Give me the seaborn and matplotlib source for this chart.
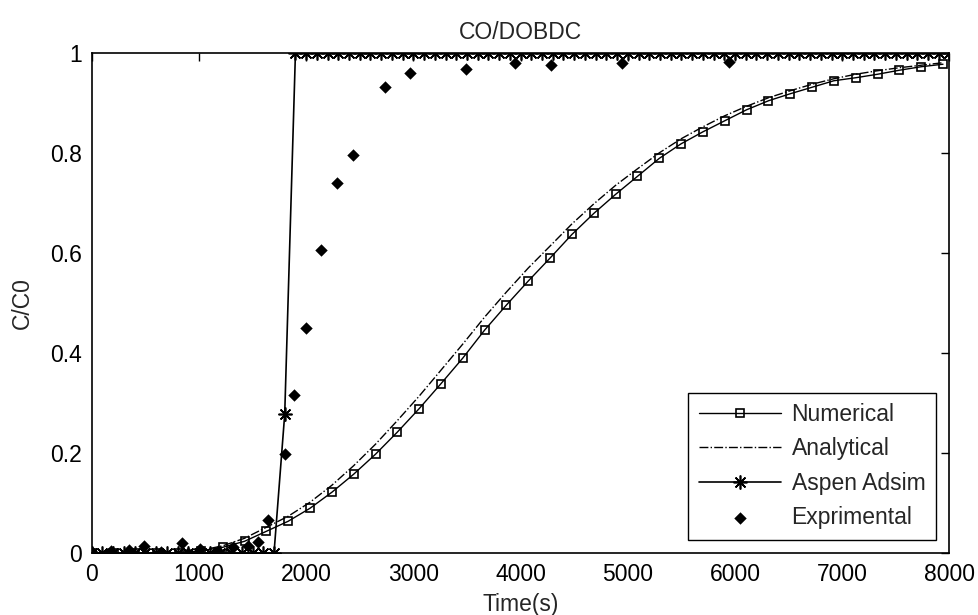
import numpy as np
import pandas as pd
import seaborn as sns
import matplotlib.pyplot as plt

# numerical model (every plotted point carries a marker)
num_t = [0, 204, 407, 611, 814, 1018, 1222, 1425, 1629, 1832, 2036, 2240, 2443, 2647,
         2850, 3054, 3258, 3461, 3665, 3868, 4072, 4276, 4479, 4683, 4886, 5090, 5294,
         5497, 5701, 5904, 6108, 6312, 6515, 6719, 6922, 7126, 7330, 7533, 7737, 7940]
num_y = [0, 0, 0, 0, 0.001, 0.005, 0.012, 0.024, 0.044, 0.064, 0.09, 0.122, 0.158, 0.198,
         0.242, 0.289, 0.339, 0.39, 0.446, 0.496, 0.544, 0.59, 0.637, 0.679, 0.717, 0.753,
         0.789, 0.818, 0.842, 0.864, 0.886, 0.904, 0.918, 0.931, 0.944, 0.95, 0.957, 0.965,
         0.972, 0.977]
# analytical solution, same time grid
ana_y = [0, 0, 0, 0, 0.001, 0.006, 0.015, 0.03, 0.052, 0.074, 0.102, 0.136, 0.175, 0.218,
         0.265, 0.314, 0.366, 0.418, 0.472, 0.522, 0.57, 0.614, 0.658, 0.698, 0.735, 0.768,
         0.8, 0.828, 0.852, 0.874, 0.893, 0.91, 0.924, 0.937, 0.948, 0.957, 0.964, 0.97,
         0.975, 0.98]
# aspen adsim, 100 s steps
asp_t = list(range(0, 8100, 100))
asp_y = [0.0] * 18 + [0.278] + [1.0] * 62
# experiment
exp_t = [0, 180, 350, 490, 650, 840, 900, 1010, 1180, 1320, 1460, 1550, 1640, 1800, 1890,
         2000, 2140, 2290, 2440, 2735, 2970, 3490, 3950, 4280, 4945, 5945]
exp_y = [0.002, 0.005, 0.006, 0.014, 0.003, 0.02, 0.0, 0.008, 0.005, 0.012, 0.014, 0.022,
         0.066, 0.198, 0.317, 0.45, 0.605, 0.739, 0.796, 0.932, 0.96, 0.967, 0.979, 0.975,
         0.979, 0.982]

sns.set_style("white")
plt.rcParams['font.family'] = ['Liberation Sans', 'DejaVu Sans']
fs = 16.5

fig = plt.figure(figsize=(9.79, 6.15), dpi=100)
ax = fig.add_axes([0.0937, 0.1003, 0.8761, 0.814])

sns.lineplot(x=num_t, y=num_y, ax=ax, color="k", lw=1.0, marker="s", markersize=6,
             markerfacecolor="none", markeredgecolor="k", markeredgewidth=1.2,
             label="Numerical")
sns.lineplot(x=num_t, y=ana_y, ax=ax, color="k", lw=1.0, linestyle="-.",
             label="Analytical")
sns.lineplot(x=asp_t, y=asp_y, ax=ax, color="k", lw=1.2, marker=(8, 2, 0), markersize=10,
             markeredgecolor="k", markeredgewidth=1.2, label="Aspen Adsim")
sns.scatterplot(x=exp_t, y=exp_y, ax=ax, color="k", marker="D", s=40, edgecolor="k",
                linewidth=0, label="Exprimental", zorder=5)

ax.set_xlim(0, 8000)
ax.set_ylim(0, 1)
ax.set_xticks(range(0, 9000, 1000))
ax.set_yticks([0, 0.2, 0.4, 0.6, 0.8, 1])
ax.set_yticklabels(["0", "0.2", "0.4", "0.6", "0.8", "1"])
ax.tick_params(direction="in", length=6, width=1, top=True, right=True,
               labelsize=fs, colors="k", pad=7)
for s in ax.spines.values():
    s.set_color("k")
    s.set_linewidth(1.2)

ax.set_title("CO/DOBDC", fontsize=fs, pad=10)
ax.set_xlabel("Time(s)", fontsize=fs, labelpad=5)
ax.set_ylabel("C/C0", fontsize=fs, labelpad=12)

leg = ax.legend(loc="lower right", fontsize=fs, frameon=True, fancybox=False,
                edgecolor="k", framealpha=1, handlelength=3.6, labelspacing=0.5,
                handletextpad=0.45, borderpad=0.45, borderaxespad=0.6)
leg.get_frame().set_linewidth(1.0)

fig.savefig("out.png", dpi=100)
